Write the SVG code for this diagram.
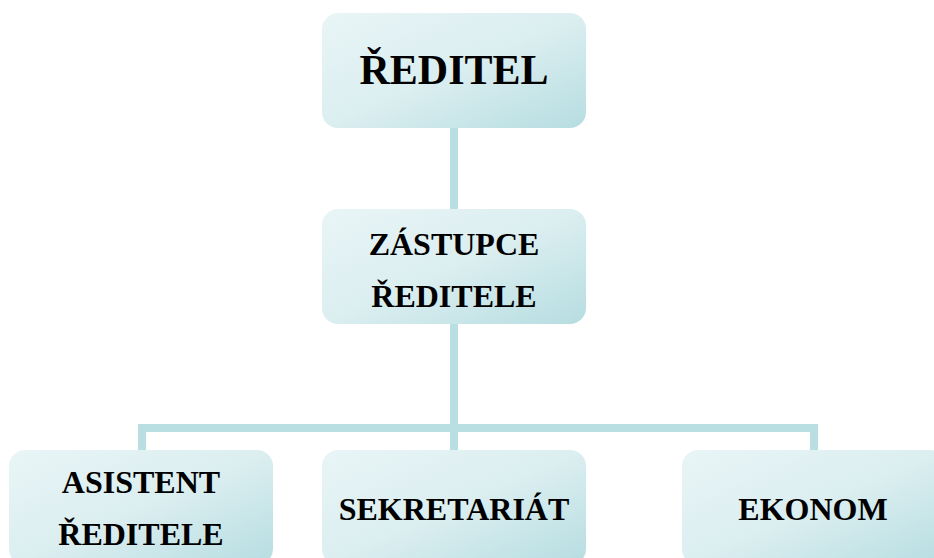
<svg xmlns="http://www.w3.org/2000/svg" width="934" height="558" viewBox="0 0 934 558">
<defs>
<linearGradient id="g" x1="0" y1="0" x2="1" y2="1">
<stop offset="0" stop-color="#e9f5f6"/>
<stop offset="0.5" stop-color="#dbeef0"/>
<stop offset="1" stop-color="#b6dde1"/>
</linearGradient>
<style>
.box{fill:url(#g);}
.t{font-family:"Liberation Serif","Times New Roman",serif;font-weight:bold;fill:#000;text-anchor:middle;}
.c{fill:none;stroke:#b9dfe3;stroke-width:8;}
</style>
</defs>
<rect width="934" height="558" fill="#fff"/>
<g id="connectors">
<line class="c" x1="454" y1="128" x2="454" y2="209"/>
<line class="c" x1="454" y1="324" x2="454" y2="450"/>
<polyline class="c" points="142,450 142,428 814,428 814,450"/>
</g>
<g id="reditel">
<rect class="box" x="322" y="13" width="264" height="115" rx="16"/>
<text class="t" x="454" y="84" font-size="42">ŘEDITEL</text>
</g>
<g id="zastupce">
<rect class="box" x="322" y="209" width="264" height="115" rx="16"/>
<text class="t" x="454" y="255" font-size="32">ZÁSTUPCE</text>
<text class="t" x="454" y="307" font-size="32">ŘEDITELE</text>
</g>
<g id="asistent">
<rect class="box" x="9" y="450" width="264" height="115" rx="16"/>
<text class="t" x="141" y="493" font-size="32">ASISTENT</text>
<text class="t" x="141" y="545" font-size="32">ŘEDITELE</text>
</g>
<g id="sekretariat">
<rect class="box" x="322" y="450" width="264" height="115" rx="16"/>
<text class="t" x="454" y="520" font-size="32">SEKRETARIÁT</text>
</g>
<g id="ekonom">
<rect class="box" x="682" y="450" width="264" height="115" rx="16"/>
<text class="t" x="813" y="520" font-size="32">EKONOM</text>
</g>
</svg>
